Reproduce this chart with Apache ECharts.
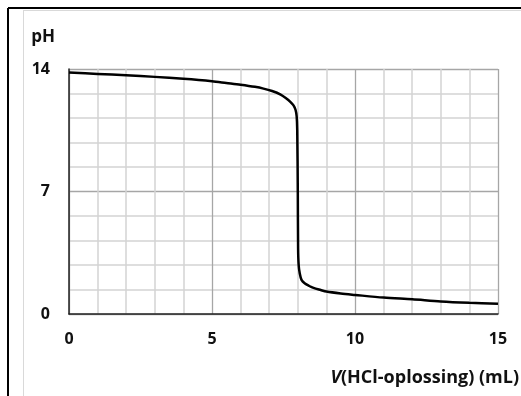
<!DOCTYPE html>
<html>
<head>
<meta charset="utf-8">
<script src="https://cdn.jsdelivr.net/npm/echarts@6/dist/echarts.min.js"></script>
<style>
  html, body { margin: 0; padding: 0; background: #fff; }
  #chart { width: 521px; height: 396px; }
</style>
</head>
<body>
<div id="chart"></div>
<script>
// volume HCl (mL) and pH
var volume = [0, 1, 2, 3, 4, 5, 5.5, 6, 6.5, 6.8, 7.1, 7.4, 7.6, 7.73, 7.85, 7.92, 7.96, 7.98, 8.0, 8.01, 8.03, 8.07, 8.13, 8.25, 8.4, 8.55, 8.8, 9.0, 9.5, 10, 11, 12, 13, 14, 15];
var pH = [13.8, 13.72, 13.64, 13.55, 13.44, 13.3, 13.2, 13.1, 12.98, 12.88, 12.74, 12.54, 12.32, 12.14, 11.92, 11.67, 11.3, 10.5, 7, 3.8, 2.8, 2.3, 1.95, 1.74, 1.6, 1.49, 1.37, 1.28, 1.17, 1.09, 0.94, 0.84, 0.72, 0.64, 0.58];
var xTicks = [0, 5, 10, 15];
var yTicks = [0, 7, 14];

var font = 'Open Sans';
var dom = document.getElementById('chart');
var myChart = echarts.init(dom);

var points = volume.map(function (v, i) { return [v, pH[i]]; });

option = {
    backgroundColor: '#fff',
    animation: false,
    grid: {
        left: 69,
        right: 23,
        top: 69,
        bottom: 82
    },
    xAxis: {
        type: 'value',
        min: xTicks[0],
        max: xTicks[xTicks.length - 1],
        interval: 5,
        axisLine: { show: true, onZero: false, lineStyle: { color: '#222', width: 1.5 } },
        axisTick: { show: false },
        axisLabel: {
            margin: 17,
            color: '#111',
            fontFamily: font,
            fontWeight: 'bold',
            fontSize: 16
        },
        splitLine: { show: true, lineStyle: { color: '#a6a6a6', width: 1.3 } },
        minorTick: { show: false, splitNumber: 5 },
        minorSplitLine: { show: true, lineStyle: { color: '#d4d4d4', width: 1.5 } }
    },
    yAxis: {
        type: 'value',
        min: yTicks[0],
        max: yTicks[yTicks.length - 1],
        interval: 7,
        name: 'pH',
        nameLocation: 'end',
        nameGap: 23,
        nameTextStyle: {
            color: '#111',
            fontFamily: font,
            fontWeight: 'bold',
            fontSize: 17,
            align: 'right',
            padding: [0, 14, 0, 0]
        },
        axisLine: { show: true, lineStyle: { color: '#222', width: 1.5 } },
        axisTick: { show: false },
        axisLabel: {
            margin: 19,
            color: '#111',
            fontFamily: font,
            fontWeight: 'bold',
            fontSize: 16
        },
        splitLine: { show: true, lineStyle: { color: '#a6a6a6', width: 1.3 } },
        minorTick: { show: false, splitNumber: 5 },
        minorSplitLine: { show: true, lineStyle: { color: '#d4d4d4', width: 1.5 } }
    },
    graphic: [
        // frame lines of the cropped figure
        { type: 'line', shape: { x1: 8, y1: 8, x2: 8, y2: 396 }, style: { stroke: '#000', lineWidth: 2 } },
        { type: 'line', shape: { x1: 8, y1: 8, x2: 521, y2: 8 }, style: { stroke: '#000', lineWidth: 2 } },
        { type: 'line', shape: { x1: 23.5, y1: 10, x2: 23.5, y2: 396 }, style: { stroke: '#d9d9d9', lineWidth: 1 } },
        { type: 'line', shape: { x1: 23, y1: 10.5, x2: 521, y2: 10.5 }, style: { stroke: '#d9d9d9', lineWidth: 1 } },
        {
            type: 'text',
            right: 2,
            top: 369,
            style: {
                text: '{i|V}(HCl-oplossing) (mL)',
                fill: '#111',
                font: 'bold 18px "Open Sans"',
                rich: {
                    i: { fontStyle: 'italic', fontWeight: 'bold', fontFamily: font, fontSize: 18, fill: '#111' }
                }
            }
        }
    ],
    series: [{
        type: 'line',
        data: points,
        showSymbol: false,
        smooth: 0.3,
        lineStyle: { color: '#000', width: 2.5 }
    }]
};

if (option && typeof option === "object") {
    myChart.setOption(option, true);
}
</script>
</body>
</html>
